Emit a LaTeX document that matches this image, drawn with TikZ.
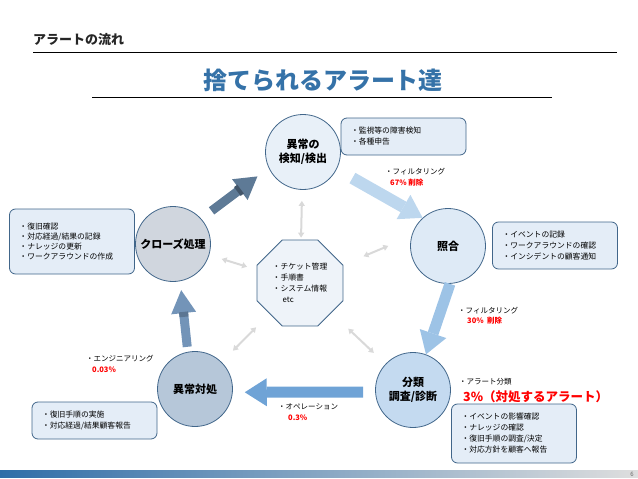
\documentclass[tikz,border=0pt]{standalone}
\usepackage{fontspec}
\setmainfont{Noto Sans CJK JP}
\usepackage{tikz}
\usetikzlibrary{shapes.geometric,arrows.meta,positioning,calc}
\definecolor{ttlblue}{HTML}{3572A8}
\definecolor{edgeblue}{HTML}{41668A}
\definecolor{memofill}{HTML}{E4EDF7}
\definecolor{alertred}{HTML}{FF0000}
\definecolor{softgrey}{HTML}{D9D9D9}
\definecolor{flowA}{RGB}{189,215,238}
\definecolor{flowB}{RGB}{157,195,230}
\definecolor{flowC}{RGB}{111,163,214}
\definecolor{flowD}{RGB}{115,148,184}
\definecolor{flowE}{RGB}{94,122,150}

\begin{document}
\begin{tikzpicture}[x=1pt, y=-1pt,
    stage/.style={circle, draw=edgeblue, line width=0.8pt, minimum size=75pt, align=center,
                 font=\fontsize{11}{14}\selectfont\bfseries, inner sep=0pt},
    memo/.style={rectangle, draw=edgeblue, rounded corners=6pt, line width=0.8pt, fill=memofill,
                 minimum width=125pt, text width=105pt, align=left, inner xsep=10pt,
                 font=\fontsize{7.8}{11}\selectfont},
    note/.style={anchor=west, inner sep=0pt, font=\fontsize{7.5}{9}\selectfont},
    hot/.style={anchor=west, inner sep=0pt, text=alertred, font=\fontsize{7.5}{9}\selectfont\bfseries},
    flow/.style={line width=11pt, -{Triangle[width=28pt,length=22pt,line width=0pt]}},
    link/.style={{Triangle[width=6pt,length=5pt]}-{Triangle[width=6pt,length=5pt]}, line width=2pt, softgrey},
    band/.style={rectangle, inner sep=0pt, minimum width=4pt, minimum height=11pt, sloped}
]
\useasboundingbox (0,0) rectangle (638,479);

\node[anchor=west, inner sep=0pt, font=\fontsize{13}{15}\selectfont\bfseries, text=black!85] (head) at (33,40) {アラートの流れ};
\draw[line width=0.8pt] (33,52) -- (617,52);
\node[inner sep=0pt, font=\fontsize{24}{28}\selectfont\bfseries, text=ttlblue] (title) at (323,80) {捨てられるアラート達};
\draw[line width=0.8pt] (92,97) -- (552,97);

\node[stage, fill={rgb,255:red,232;green,240;blue,248}] (det) at (303,152) {異常の\\検知/検出};
\node[stage, fill={rgb,255:red,222;green,234;blue,246}] (sho) at (448,246) {照合};
\node[stage, fill={rgb,255:red,196;green,218;blue,240}] (bun) at (413,390) {分類\\調査/診断};
\node[stage, fill={rgb,255:red,182;green,199;blue,217}] (tai) at (195,389) {異常対処};
\node[stage, fill={rgb,255:red,208;green,214;blue,222}] (clo) at (173,244) {クローズ処理};

\node[regular polygon, regular polygon sides=8, draw=edgeblue, line width=0.8pt,
      fill={rgb,255:red,238;green,243;blue,249}, minimum size=93pt, inner sep=1pt,
      align=left, font=\fontsize{7.8}{11}\selectfont] (info) at (300,283)
      {・チケット管理\\・手順書\\・システム情報\\\hspace*{10pt}etc};

\node[memo, minimum height=37pt] (memoDet) at (403.5,136.5) {・監視等の障害検知\\・各種申告};
\node[memo, minimum height=47pt] (memoSho) at (555,245.5) {・イベントの記録\\・ワークアラウンドの確認\\・インシデントの顧客通知};
\node[memo, minimum height=65pt, font=\fontsize{7.8}{10.2}\selectfont] (memoClo) at (72,241.5) {・復旧確認\\・対応経過/結果の記録\\・ナレッジの更新\\・ワークアラウンドの作成};
\node[memo, minimum height=37pt] (memoTai) at (94.5,420.5) {・復旧手順の実施\\・対応経過/結果顧客報告};
\node[memo, minimum height=59pt] (memoBun) at (514,433.5) {・イベントの影響確認\\・ナレッジの確認\\・復旧手順の調査/決定\\・対応方針を顧客へ報告};

\draw[link, shorten <=11pt, shorten >=2pt] (det) -- (info);
\draw[link, shorten <=13pt, shorten >=10pt] (clo) -- (info);
\draw[link, shorten <=25pt, shorten >=22pt] (sho.165) -- (info);
\draw[link, shorten <=16pt, shorten >=19pt] (tai) -- (info);
\draw[link, shorten <=16pt, shorten >=23pt] (bun) -- (info);

\draw[flow, flowA, line width=12pt, shorten <=18pt] (det.-27) -- (sho.132);
\draw[flow, flowB] (sho.-87) -- (bun.70);
\draw[flow, flowC, shorten <=12pt, shorten >=12pt] (bun.183) -- (tai.-5);
\draw[flow, flowD, line width=9pt, -{Triangle[width=25pt,length=23pt,line width=0pt]}, shorten <=5pt, shorten >=9pt] (tai.101) -- (clo.-79);
\draw[flow, flowE, line width=9pt, -{Triangle[width=26pt,length=22pt,line width=0pt]}, shorten <=13pt, shorten >=14pt] (clo.42) -- (det.205);
\path (clo.42) -- (det.205) node[band, pos=0.56, fill=flowE!70!black] (bandA) {};
\path (tai.101) -- (clo.-79) node[band, pos=0.53, fill=flowD!80!black, minimum width=5pt, minimum height=9pt] (bandB) {};

\node[note] (filtA) at (385,172) {・フィルタリング};
\node[hot] (cutA) at (390,183) {67\% 削除};
\node[note] (filtB) at (458,311) {・フィルタリング};
\node[hot] (cutB) at (467,321) {30\%\ \ 削除};
\node[note] (sort) at (459,382) {・アラート分類};
\node[hot, font=\fontsize{12.5}{15}\selectfont\bfseries] (keep) at (463,397) {3\%（対処するアラート）};
\node[note] (eng) at (86,359) {・エンジニアリング};
\node[hot] (engRate) at (92,370) {0.03\%};
\node[note] (ope) at (278,407) {・オペレーション};
\node[hot] (opeRate) at (288,418) {0.3\%};

\shade[left color={rgb,255:red,47;green,110;blue,168}, right color={rgb,255:red,222;green,222;blue,222}] (0,470) rectangle (638,477);
\node[inner sep=0pt, font=\fontsize{6}{7}\selectfont, text=black!60] (page) at (632,474) {6};
\end{tikzpicture}
\end{document}
